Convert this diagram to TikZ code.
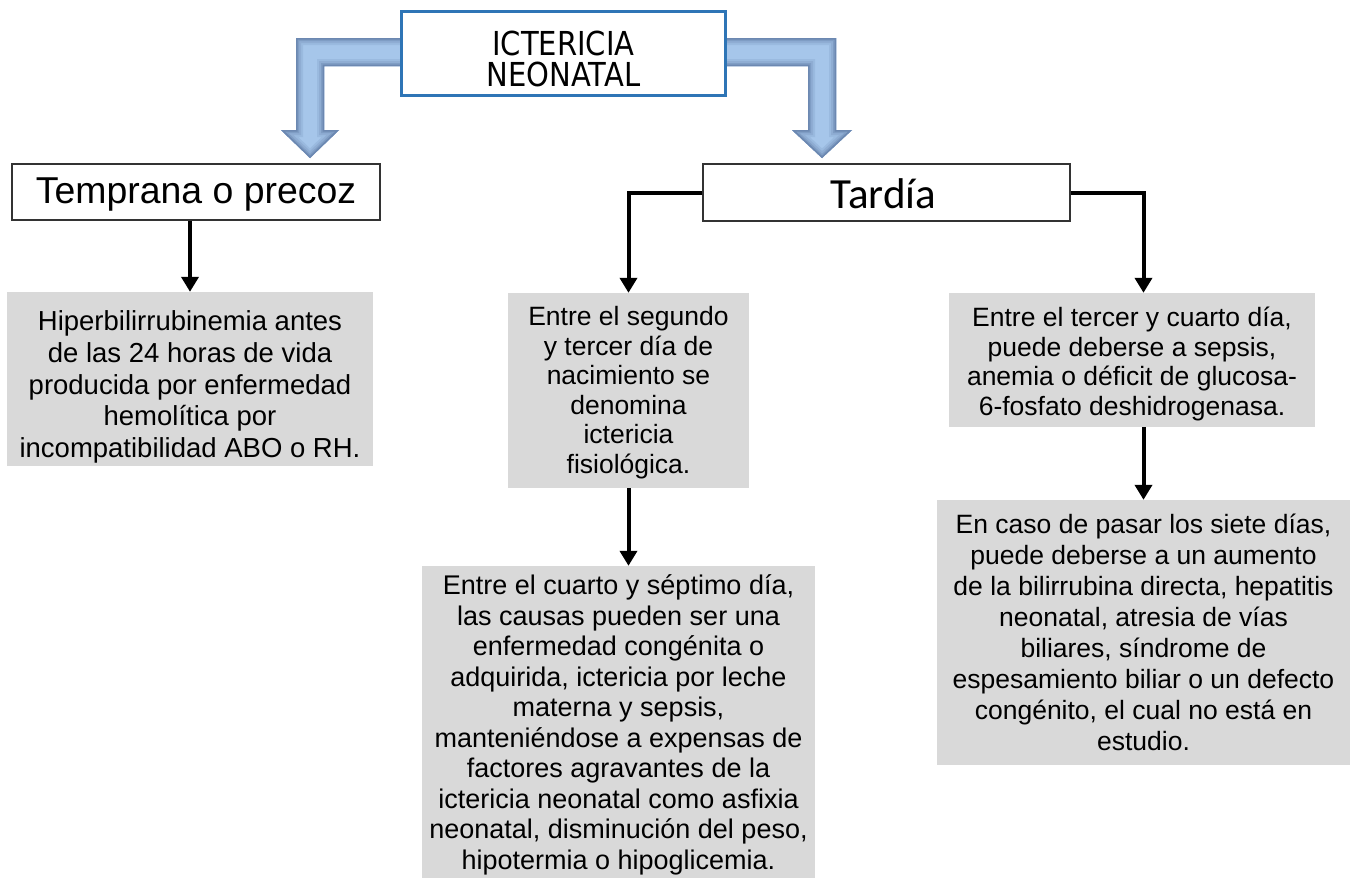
\documentclass[tikz,border=0pt]{standalone}
\usepackage{fontspec}
\setmainfont{Liberation Sans}
\newfontfamily\tardfont{Carlito}
\newfontfamily\titlefont[FakeStretch=0.88]{DejaVu Sans}
\usetikzlibrary{arrows.meta,calc}
\definecolor{greybox}{RGB}{217,217,217}
\definecolor{titleblue}{RGB}{46,117,182}
\definecolor{arrowlight}{RGB}{166,198,234}
\definecolor{arrowdark}{RGB}{88,116,158}
\tikzset{
  greyrect/.style={inner sep=0pt, fill=greybox},
  bodytext/.style={align=center, inner sep=0pt},
  headbox/.style={draw=black!80, line width=1.2pt, fill=white, inner sep=0pt},
  conn/.style={line width=4pt, -{Triangle[width=17pt,length=15pt]}},
  leftblock/.style={insert path={(410,38) -- (296,38) -- (296,130) -- (281,130) -- (310,158) -- (339,130) -- (324,130) -- (324,66) -- (410,66) -- cycle}},
  rightblock/.style={insert path={(715,38) -- (836,38) -- (836,130) -- (852,130) -- (822,158) -- (792,130) -- (808,130) -- (808,66) -- (715,66) -- cycle}},
}
\begin{document}
\begin{tikzpicture}[x=1pt,y=-1pt]
\path[use as bounding box, fill=white] (0,0) rectangle (1353,878);

% block arrows from the title
\foreach \blk in {leftblock,rightblock}{
  \fill[arrowlight, \blk];
  \begin{scope}
    \clip[\blk];
    \foreach \w/\c in {14/15,10/30,6/50,3/75}{
      \draw[line width=\w pt, line join=miter, arrowdark!\c!arrowlight, \blk];
    }
  \end{scope}
}

\node[draw=titleblue, line width=3.5pt, fill=white, minimum width=324pt, minimum height=84pt, inner sep=0pt] (title) at (563.5,53.5) {};
\node[bodytext, font=\titlefont\fontsize{33}{31}\selectfont] (titletext) at ([yshift=-5pt]title.center) {ICTERICIA\\NEONATAL};

\node[headbox, minimum width=368pt, minimum height=56pt] (temp) at (196,192) {};
\node[bodytext, font=\fontsize{37.4}{40}\selectfont] (temptext) at ([yshift=-3pt]temp.center) {Temprana o precoz};
\node[headbox, minimum width=367pt, minimum height=57pt] (tard) at (886.5,192.5) {};
\node[bodytext, font=\tardfont\fontsize{43}{46}\selectfont] (tardtext) at ([xshift=-3pt,yshift=-1pt]tard.center) {Tardía};

\node[greyrect, minimum width=366pt, minimum height=174pt] (lbox) at (190,379) {};
\node[bodytext, font=\fontsize{27.5}{31.75}\selectfont] (ltext) at ([yshift=-8pt]lbox.center)
  {Hiperbilirrubinemia antes\\de las 24 horas de vida\\producida por enfermedad\\hemolítica por\\incompatibilidad ABO o RH.};
\node[greyrect, minimum width=241pt, minimum height=195pt] (mtop) at (628.5,390.5) {};
\node[bodytext, font=\fontsize{26.5}{29.5}\selectfont] (mtoptext) at ([yshift=-2pt]mtop.center)
  {Entre el segundo\\y tercer día de\\nacimiento se\\denomina\\ictericia\\fisiológica.};
\node[greyrect, minimum width=393pt, minimum height=312pt] (mbot) at (618.5,722) {};
\node[bodytext, font=\fontsize{27}{30.5}\selectfont] (mbottext) at ([yshift=-3pt]mbot.center)
  {Entre el cuarto y séptimo día,\\las causas pueden ser una\\enfermedad congénita o\\adquirida, ictericia por leche\\materna y sepsis,\\manteniéndose a expensas de\\factores agravantes de la\\ictericia neonatal como asfixia\\neonatal, disminución del peso,\\hipotermia o hipoglicemia.};
\node[greyrect, minimum width=366pt, minimum height=134pt] (rtop) at (1132,360) {};
\node[bodytext, font=\fontsize{26.5}{29.7}\selectfont] (rtoptext) at ([yshift=-4pt]rtop.center)
  {Entre el tercer y cuarto día,\\puede deberse a sepsis,\\anemia o déficit de glucosa-\\6-fosfato deshidrogenasa.};
\node[greyrect, minimum width=413pt, minimum height=265pt] (rbot) at (1143.5,632.5) {};
\node[bodytext, font=\fontsize{26.5}{30.9}\selectfont] (rbottext) at (rbot.center)
  {En caso de pasar los siete días,\\puede deberse a un aumento\\de la bilirrubina directa, hepatitis\\neonatal, atresia de vías\\biliares, síndrome de\\espesamiento biliar o un defecto\\congénito, el cual no está en\\estudio.};

\draw[conn] (lbox.north |- temp.south) -- (lbox.north);
\draw[conn] (tard.west) -| (mtop.north);
\draw[conn] (mtop.south) -- (mtop.south |- mbot.north);
\draw[conn] (tard.east) -| (rtop.north -| rbot.north);
\draw[conn] (rtop.south -| rbot.north) -- (rbot.north);
\end{tikzpicture}
\end{document}
